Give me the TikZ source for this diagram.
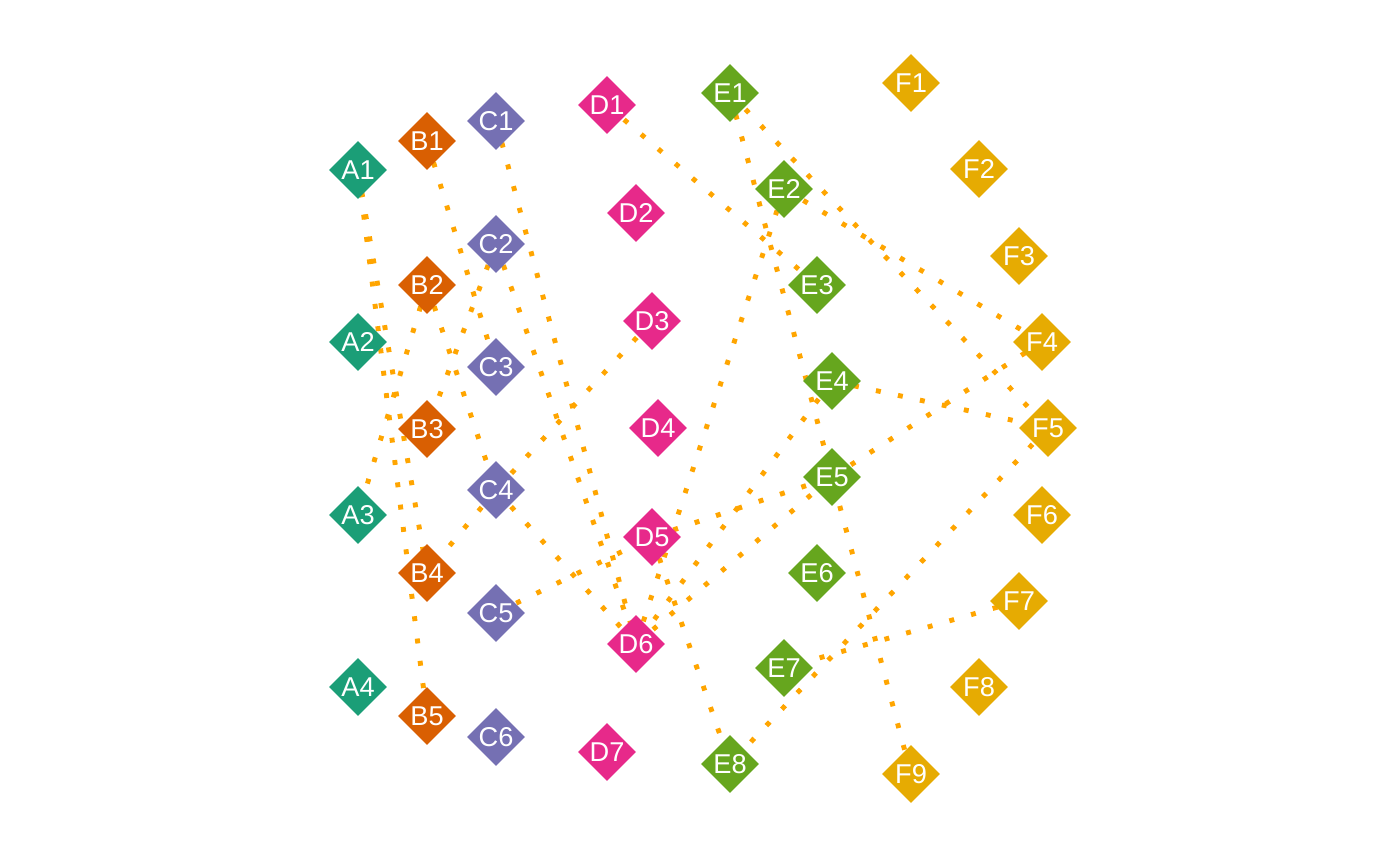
\documentclass[tikz,border=0pt]{standalone}
\usepackage{fontspec}
\setmainfont{Liberation Sans}
\usetikzlibrary{shapes.geometric,backgrounds}

\definecolor{colA}{HTML}{1B9E77}
\definecolor{colB}{HTML}{D95F02}
\definecolor{colC}{HTML}{7570B3}
\definecolor{colD}{HTML}{E7298A}
\definecolor{colE}{HTML}{66A61E}
\definecolor{colF}{HTML}{E6AB02}
\definecolor{linkcol}{HTML}{FFA500}

\begin{document}
\begin{tikzpicture}[
  x=0.02cm, y=-0.02cm,
  gem/.style={
    diamond, aspect=1, inner sep=0pt, minimum size=1.16cm,
    text=white, font=\fontsize{15.5}{17}\selectfont},
  gA/.style={gem, fill=colA},
  gB/.style={gem, fill=colB},
  gC/.style={gem, fill=colC},
  gD/.style={gem, fill=colD},
  gE/.style={gem, fill=colE},
  gF/.style={gem, fill=colF},
  link/.style={draw=linkcol, line width=2.8pt,
    dash pattern=on 2.8pt off 10pt},
]
  \useasboundingbox (0,0) rectangle (1400,865);

  % column A
  \node[gA] (A1) at (358,170) {A1};
  \node[gA] (A2) at (358,342) {A2};
  \node[gA] (A3) at (358,515) {A3};
  \node[gA] (A4) at (358,687) {A4};
  % column B
  \node[gB] (B1) at (427,141) {B1};
  \node[gB] (B2) at (427,285) {B2};
  \node[gB] (B3) at (427,429) {B3};
  \node[gB] (B4) at (427,573) {B4};
  \node[gB] (B5) at (427,716) {B5};
  % column C
  \node[gC] (C1) at (496,121) {C1};
  \node[gC] (C2) at (496,244) {C2};
  \node[gC] (C3) at (496,367) {C3};
  \node[gC] (C4) at (496,490) {C4};
  \node[gC] (C5) at (496,613) {C5};
  \node[gC] (C6) at (496,737) {C6};
  % column D
  \node[gD] (D1) at (607,105) {D1};
  \node[gD] (D2) at (636,213) {D2};
  \node[gD] (D3) at (652,321) {D3};
  \node[gD] (D4) at (658,428) {D4};
  \node[gD] (D5) at (652,537) {D5};
  \node[gD] (D6) at (636,644) {D6};
  \node[gD] (D7) at (607,752) {D7};
  % column E
  \node[gE] (E1) at (730,93)  {E1};
  \node[gE] (E2) at (784,189) {E2};
  \node[gE] (E3) at (817,285) {E3};
  \node[gE] (E4) at (832,381) {E4};
  \node[gE] (E5) at (832,477) {E5};
  \node[gE] (E6) at (817,573) {E6};
  \node[gE] (E7) at (784,668) {E7};
  \node[gE] (E8) at (730,764) {E8};
  % column F
  \node[gF] (F1) at (911,83)   {F1};
  \node[gF] (F2) at (979,169)  {F2};
  \node[gF] (F3) at (1019,256) {F3};
  \node[gF] (F4) at (1042,342) {F4};
  \node[gF] (F5) at (1048,428) {F5};
  \node[gF] (F6) at (1042,515) {F6};
  \node[gF] (F7) at (1019,601) {F7};
  \node[gF] (F8) at (979,687)  {F8};
  \node[gF] (F9) at (911,774)  {F9};

  % links, under the nodes
  \begin{scope}[on background layer]
    \draw[link] (A1.center) -- (B4.center);
    \draw[link] (A1.center) -- (B5.center);
    \draw[link] (B1.center) -- (C3.center);
    \draw[link] (B2.center) -- (A3.center);
    \draw[link] (B2.center) -- (C4.center);
    \draw[link] (C2.center) -- (B3.center);
    \draw[link] (C1.center) -- (D6.center);
    \draw[link] (C2.center) -- (D6.center);
    \draw[link] (C4.center) -- (D6.center);
    \draw[link] (C4.center) -- (B4.center);
    \draw[link] (D3.center) -- (C4.center);
    \draw[link] (C5.center) -- (D5.center);
    \draw[link] (D5.center) -- (E5.center);
    \draw[link] (D5.center) -- (E8.center);
    \draw[link] (D1.center) -- (E3.center);
    \draw[link] (E2.center) -- (D6.center);
    \draw[link] (E4.center) -- (D6.center);
    \draw[link] (D6.center) -- (E5.center);
    \draw[link] (E5.center) -- (F4.center);
    \draw[link] (E1.center) -- (F5.center);
    \draw[link] (E1.center) -- (F9.center);
    \draw[link] (E2.center) -- (F4.center);
    \draw[link] (E4.center) -- (F5.center);
    \draw[link] (F5.center) -- (E8.center);
    \draw[link] (F7.center) -- (E7.center);
  \end{scope}
\end{tikzpicture}
\end{document}
